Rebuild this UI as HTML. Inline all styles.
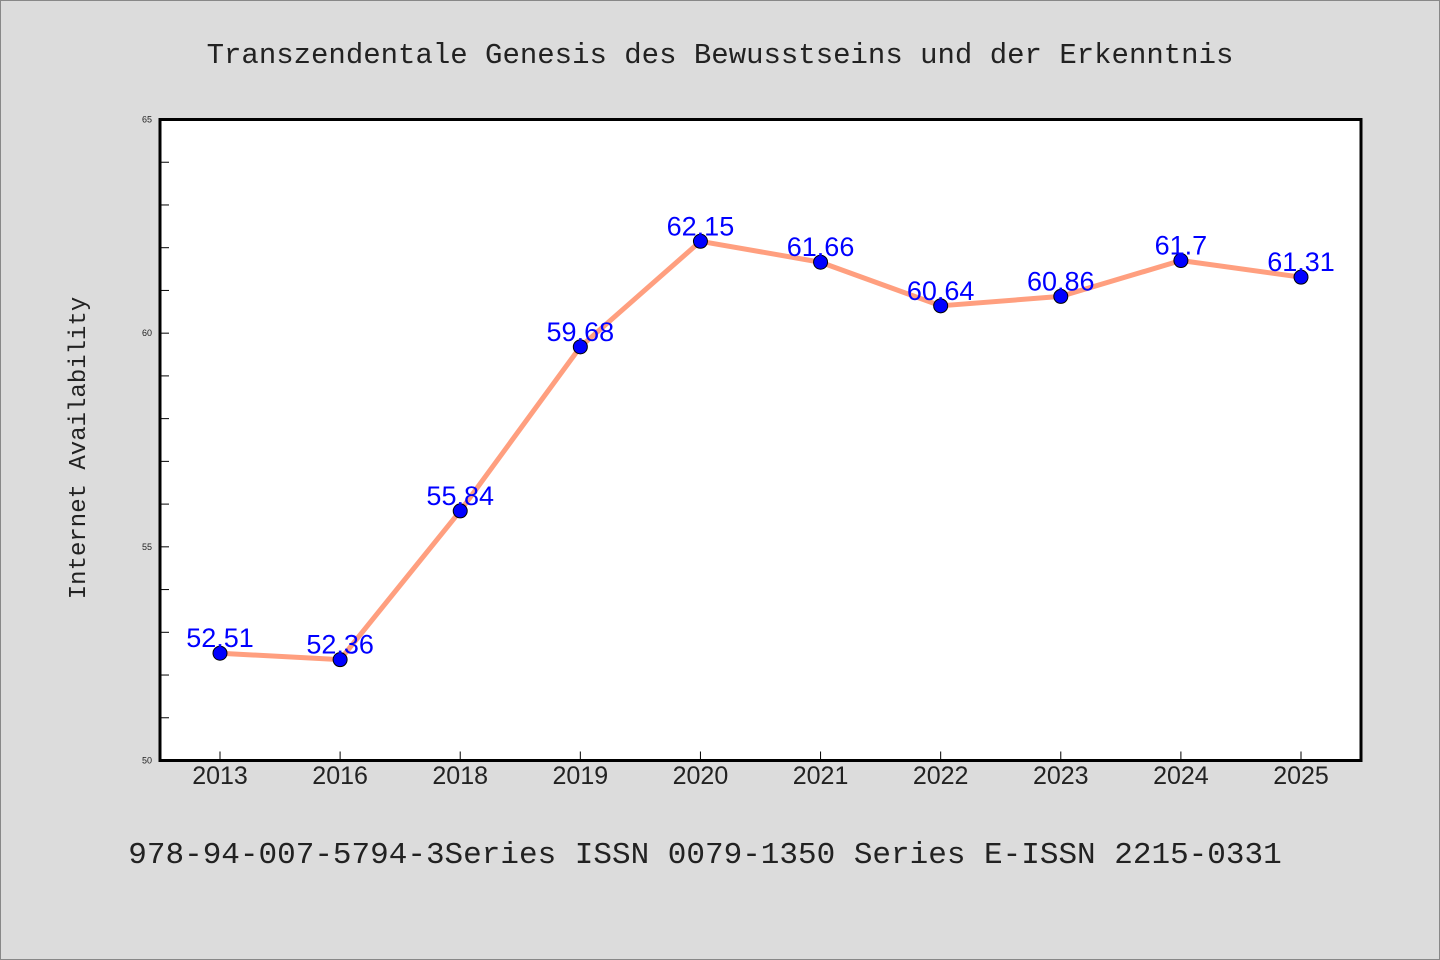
<!DOCTYPE html>
<html><head><meta charset="utf-8"><style>
body{margin:0;background:#dcdcdc;}
svg{display:block;}
</style></head><body>
<svg width="1440" height="960" xmlns="http://www.w3.org/2000/svg">
<rect x="0.5" y="0.5" width="1439" height="959" fill="#dcdcdc" stroke="#888"/>
<text x="720" y="63" text-anchor="middle" font-family="'WenQuanYi Zen Hei Mono','Liberation Mono',monospace" font-size="29" fill="#222">Transzendentale Genesis des Bewusstseins und der Erkenntnis</text>
<rect x="160" y="119.5" width="1201" height="641" fill="#fff"/>
<g id="grid"></g>
<g id="series"></g>
<rect x="160" y="119.5" width="1201" height="641" fill="none" stroke="#000" stroke-width="3"/>
<text transform="translate(85,448) rotate(-90)" text-anchor="middle" font-family="'WenQuanYi Zen Hei Mono','Liberation Mono',monospace" font-size="24" fill="#222">Internet Availability</text>
<text x="705" y="863" text-anchor="middle" font-family="'WenQuanYi Zen Hei Mono','Liberation Mono',monospace" font-size="31" fill="#222">978-94-007-5794-3Series ISSN 0079-1350 Series E-ISSN 2215-0331</text>
</svg>
<script>
const categories=["2013","2016","2018","2019","2020","2021","2022","2023","2024","2025"];
const values=[52.51,52.36,55.84,59.68,62.15,61.66,60.64,60.86,61.7,61.31];
const labels=["52.51","52.36","55.84","59.68","62.15","61.66","60.64","60.86","61.7","61.31"];
const yTicks=[50,55,60,65];
const yMin=50,yMax=65;
const NS="http://www.w3.org/2000/svg";
const x0=160,x1=1361,yTop=119.5,yBot=760.5;
function xs(i){return 220+i*(x1-x0-120)/(categories.length-1);}
function ys(v){return yBot-(v-yMin)/(yMax-yMin)*(yBot-yTop);}
function mk(t,a,p){const e=document.createElementNS(NS,t);for(const k in a)e.setAttribute(k,a[k]);p.appendChild(e);return e;}
const g=document.getElementById('grid'),s=document.getElementById('series');
for(let v=yMin+1;v<yMax;v++){
 const l=mk('line',{x1:x0,x2:x0+9,y1:ys(v),y2:ys(v),stroke:'#000','stroke-width':1},g);
 
 
}
yTicks.forEach(v=>{
 const t=mk('text',{x:x0-8,y:ys(v)+3,'text-anchor':'end','font-family':'Liberation Sans,sans-serif','font-size':9,fill:'#222'},g);
 t.textContent=v;
 
 
});
categories.forEach((c,i)=>{
 const l=mk('line',{x1:xs(i),x2:xs(i),y1:yBot,y2:yBot-9,stroke:'#000','stroke-width':1},g);
 
 
 const t=mk('text',{x:xs(i),y:784,'text-anchor':'middle','font-family':"'WenQuanYi Zen Hei','Liberation Sans',sans-serif",'font-size':25,fill:'#222'},g);
 t.textContent=c;
 
 
});
const pl=mk('polyline',{points:values.map((v,i)=>xs(i)+','+ys(v)).join(' '),fill:'none',stroke:'#ff9f7f','stroke-width':5,'stroke-linejoin':'round'},s);


values.forEach((v,i)=>{
 const c=mk('circle',{cx:xs(i),cy:ys(v),r:7,fill:'#0000ff',stroke:'#000','stroke-width':1},s);
 
 
 const t=mk('text',{x:xs(i),y:ys(v)-6,'text-anchor':'middle','font-family':'Liberation Sans,sans-serif','font-size':27,fill:'#0000ff'},s);
 t.textContent=labels[i];
 
 
});
</script>
</body></html>
